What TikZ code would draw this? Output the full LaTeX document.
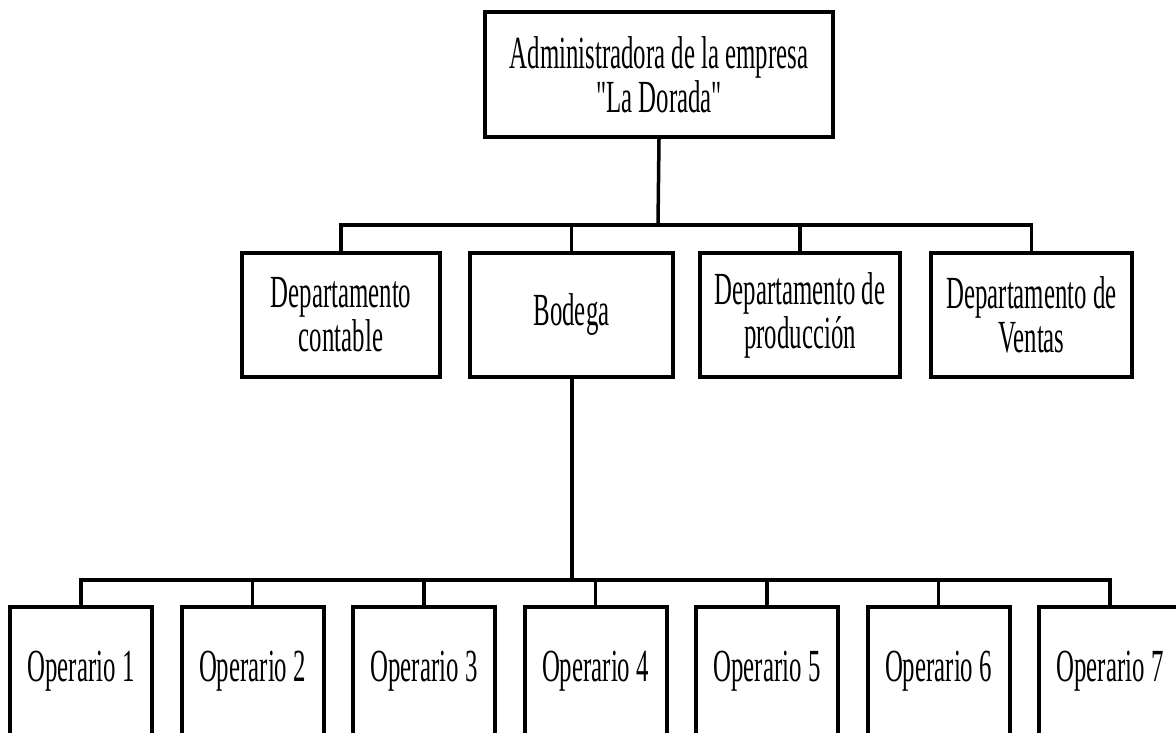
\documentclass[tikz,border=0pt]{standalone}
\usepackage{fontspec}
\newfontfamily\orgfont[FakeStretch=0.54]{Liberation Serif}
\begin{document}
\begin{tikzpicture}[x=1pt,y=-1pt,
  box/.style={draw, line width=4pt, inner sep=0pt, align=center, fill=white,
    font=\orgfont\fontsize{46}{44}\selectfont, minimum height=124pt},
  opbox/.style={box, minimum width=142pt, minimum height=128pt},
  conn/.style={line width=3.5pt}]
\useasboundingbox (0,0) rectangle (1176,733);
\clip (0,0) rectangle (1176,733);
\node[box, minimum width=348pt, minimum height=125pt] (top) at (659,74.5) {Administradora de la empresa\\"La Dorada"};
\node[box, minimum width=198pt] (cont) at (341,315) {Departamento\\contable};
\node[box, minimum width=203pt] (bod) at (571.5,315) {\raisebox{4pt}{Bodega}};
\node[box, minimum width=200pt] (prod) at (800,315) {Departamento de\\producción};
\node[box, minimum width=201pt] (vent) at (1031.5,315) {Departamento de\\Ventas};
\node[opbox] (op1) at (81,671) {Operario 1};
\node[opbox] (op2) at (252.5,671) {Operario 2};
\node[opbox] (op3) at (424,671) {Operario 3};
\node[opbox] (op4) at (595.5,671) {Operario 4};
\node[opbox] (op5) at (767,671) {Operario 5};
\node[opbox] (op6) at (938.5,671) {Operario 6};
\node[opbox] (op7) at (1110,671) {Operario 7};
\coordinate (bus1) at (658,225);
\coordinate (bus2) at (572,580);
\draw[conn] (top.south) -- (bus1);
\draw[conn] (cont.north) |- (bus1) -| (vent.north);
\draw[conn] (bod.north) -- (bod.north |- bus1);
\draw[conn] (prod.north) -- (prod.north |- bus1);
\draw[conn] (bod.south -| bus2) -- (bus2);
\draw[conn] (op1.north) |- (bus2) -| (op7.north);
\foreach \n in {op2,op3,op4,op5,op6}
  \draw[conn] (\n.north) -- (\n.north |- bus2);
\end{tikzpicture}
\end{document}
